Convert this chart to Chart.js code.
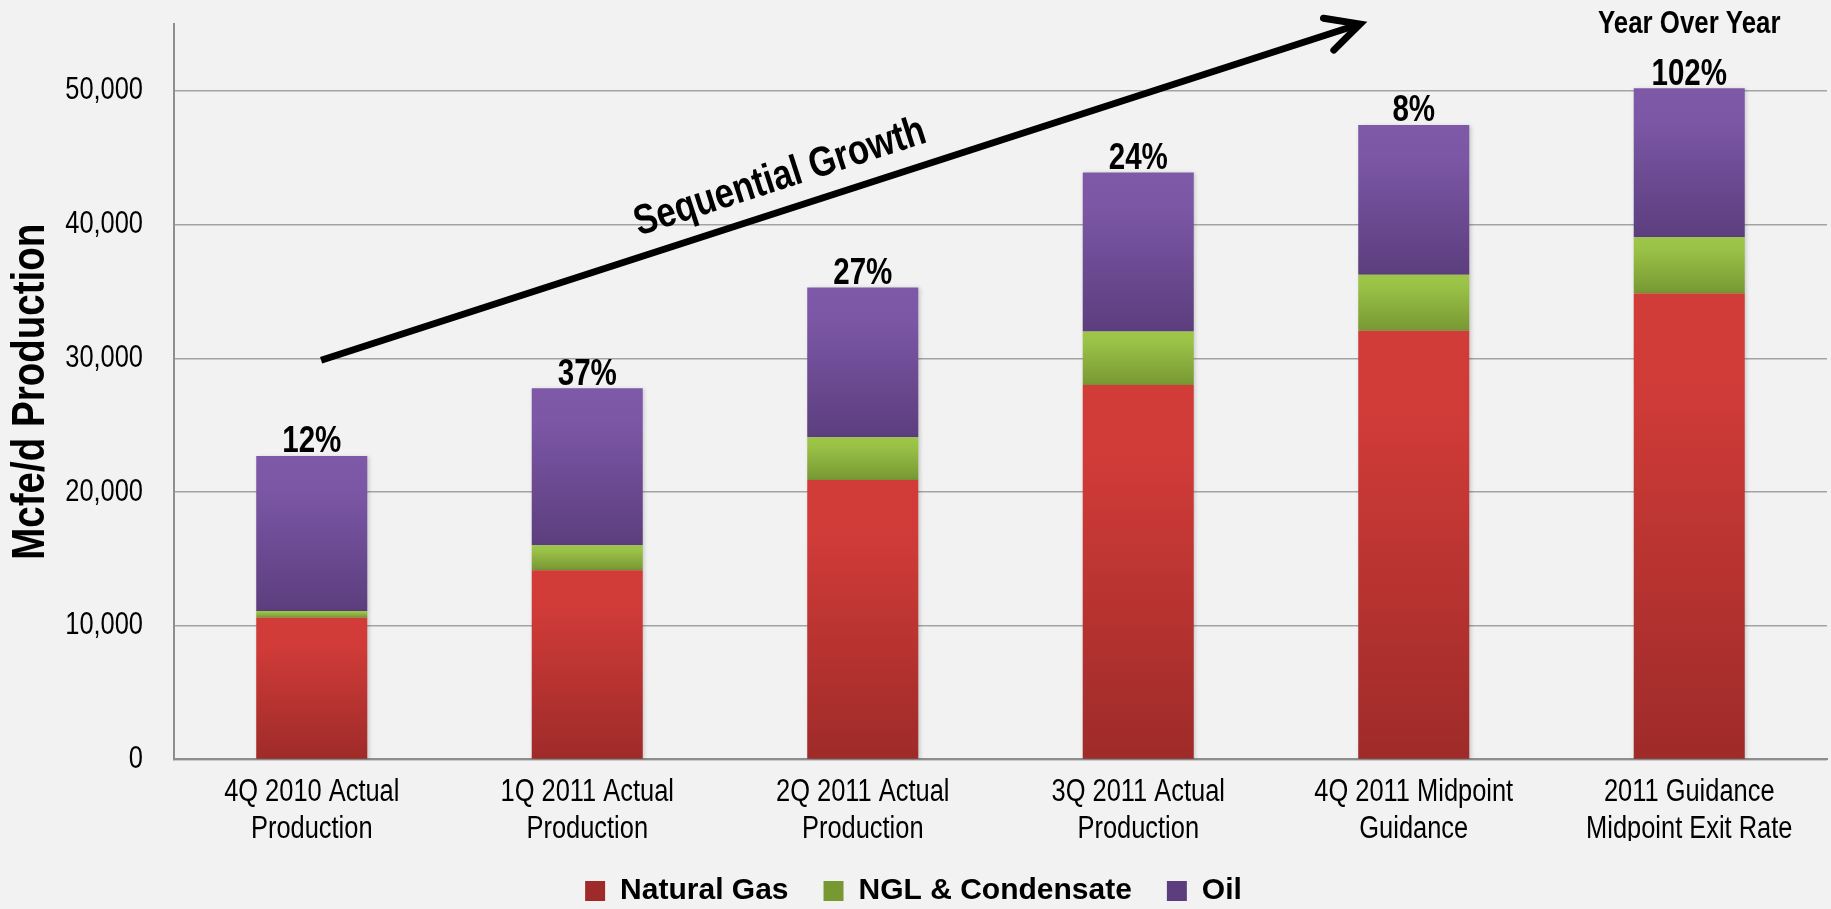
<!DOCTYPE html>
<html><head><meta charset="utf-8">
<script src="https://cdn.jsdelivr.net/npm/chart.js@4/dist/chart.umd.min.js"></script>
<style>html,body{margin:0;padding:0;background:#F2F2F2;overflow:hidden}#wrap{width:1831px;height:909px;position:relative}canvas{display:block}</style>
</head><body><div id="wrap"><canvas id="c" width="1831" height="909"></canvas></div>
<script>
// ---- data ----
const categories = [
  ['4Q 2010 Actual', 'Production'],
  ['1Q 2011 Actual', 'Production'],
  ['2Q 2011 Actual', 'Production'],
  ['3Q 2011 Actual', 'Production'],
  ['4Q 2011 Midpoint', 'Guidance'],
  ['2011 Guidance', 'Midpoint Exit Rate']
];
const naturalGas    = [10600, 14150, 20900, 28000, 32050, 34850];
const nglCondensate = [500, 1870, 3200, 4000, 4200, 4200];
const oil           = [11600, 11740, 11200, 11900, 11200, 11150];
const growthLabels  = ['12%', '37%', '27%', '24%', '8%', '102%'];
const yTickValues   = [0, 10000, 20000, 30000, 40000, 50000];
const seriesNames   = ['Natural Gas', 'NGL & Condensate', 'Oil'];
const yAxisTitle    = 'Mcfe/d Production';
const arrowText     = 'Sequential Growth';
const yoyText       = 'Year Over Year';

// condensed look: text in the "NarrowSim" family is drawn horizontally compressed
const NARROW = "NarrowSim, 'Liberation Sans', Arial, sans-serif";
const REG = "'Liberation Sans', Arial, sans-serif";
const SX = 0.82;

function installNarrow(ctx) {
  if (ctx.__narrow) return;
  ctx.__narrow = true;
  const ft = ctx.fillText.bind(ctx), mt = ctx.measureText.bind(ctx);
  ctx.fillText = function (text, x, y, maxWidth) {
    if (/NarrowSim/.test(this.font)) {
      this.save();
      this.translate(x, y);
      this.scale(SX, 1);
      if (maxWidth !== undefined && maxWidth !== null) ft(text, 0, 0, maxWidth / SX); else ft(text, 0, 0);
      this.restore();
    } else if (maxWidth !== undefined && maxWidth !== null) ft(text, x, y, maxWidth);
    else ft(text, x, y);
  };
  ctx.measureText = function (text) {
    const m = mt(text);
    if (/NarrowSim/.test(this.font)) {
      return {
        width: m.width * SX,
        actualBoundingBoxAscent: m.actualBoundingBoxAscent,
        actualBoundingBoxDescent: m.actualBoundingBoxDescent,
        actualBoundingBoxLeft: m.actualBoundingBoxLeft * SX,
        actualBoundingBoxRight: m.actualBoundingBoxRight * SX,
        fontBoundingBoxAscent: m.fontBoundingBoxAscent,
        fontBoundingBoxDescent: m.fontBoundingBoxDescent
      };
    }
    return m;
  };
}

const palettes = [
  ['#D13C39', '#D03B38', '#9E2B29'],
  ['#9DC649', '#9AC247', '#789833'],
  ['#7E59A8', '#7C57A6', '#5C3E7E']
];

function segFill(dsIndex) {
  return (c) => {
    const chart = c.chart;
    const [c0, cm, c1] = palettes[dsIndex];
    const g2d = chart.ctx;
    if (c.type !== 'data') {
      const g = g2d.createLinearGradient(0, 881, 0, 901);
      g.addColorStop(0, c0); g.addColorStop(1, c1);
      return g;
    }
    const y = chart.scales && chart.scales.y;
    if (!y || !chart.chartArea) return cm;
    const i = c.dataIndex;
    let start = 0;
    for (let d = 0; d < dsIndex; d++) start += chart.data.datasets[d].data[i];
    const end = start + chart.data.datasets[dsIndex].data[i];
    const top = y.getPixelForValue(end), bot = y.getPixelForValue(start);
    if (!isFinite(top) || !isFinite(bot) || Math.abs(bot - top) < 0.5) return cm;
    const g = g2d.createLinearGradient(0, top, 0, bot);
    g.addColorStop(0, c0);
    g.addColorStop(0.2, cm);
    g.addColorStop(1, c1);
    return g;
  };
}

const shadowPlugin = {
  id: 'shadow',
  beforeDatasetDraw(chart) {
    const ctx = chart.ctx;
    ctx.save();
    ctx.shadowColor = 'rgba(0,0,0,0.18)';
    ctx.shadowBlur = 4;
    ctx.shadowOffsetX = 1.5;
    ctx.shadowOffsetY = 1;
  },
  afterDatasetDraw(chart) { chart.ctx.restore(); }
};

const annotPlugin = {
  id: 'annot',
  afterDatasetsDraw(chart) {
    const {ctx, scales: {x, y}} = chart;
    const meta = chart.getDatasetMeta(chart.data.datasets.length - 1);
    ctx.save();
    ctx.fillStyle = '#000';
    ctx.textAlign = 'center';
    ctx.textBaseline = 'alphabetic';
    ctx.font = 'bold 36px ' + NARROW;
    meta.data.forEach((bar, i) => ctx.fillText(growthLabels[i], bar.x, bar.y - 3.5));

    ctx.font = 'bold 31.5px ' + NARROW;
    ctx.fillText(yoyText, x.getPixelForValue(5), y.getPixelForValue(54300));

    // arrow
    const x0 = x.getPixelForValue(0.034), y0 = y.getPixelForValue(29850);
    const x1 = x.getPixelForValue(3.805), y1 = y.getPixelForValue(55000);
    ctx.strokeStyle = '#000';
    ctx.lineWidth = 7;
    ctx.lineCap = 'butt';
    ctx.beginPath(); ctx.moveTo(x0, y0); ctx.lineTo(x1, y1); ctx.stroke();
    const ang = Math.atan2(y0 - y1, x0 - x1);
    const len = 37, spread = 27 * Math.PI / 180;
    ctx.lineCap = 'round';
    ctx.lineJoin = 'miter';
    ctx.beginPath();
    ctx.moveTo(x1 + len * Math.cos(ang + spread), y1 + len * Math.sin(ang + spread));
    ctx.lineTo(x1, y1);
    ctx.lineTo(x1 + len * Math.cos(ang - spread), y1 + len * Math.sin(ang - spread));
    ctx.stroke();

    // rotated text
    const tx = x.getPixelForValue(1.70), ty = y.getPixelForValue(43500);
    ctx.translate(tx, ty);
    ctx.rotate(-18 * Math.PI / 180);
    ctx.font = 'bold 42px ' + NARROW;
    ctx.textBaseline = 'middle';
    ctx.fillText(arrowText, 0, 0);
    ctx.restore();
  }
};

const datasets = [naturalGas, nglCondensate, oil].map((arr, k) => ({
  label: seriesNames[k],
  data: arr,
  backgroundColor: segFill(k),
  borderWidth: 0,
  barPercentage: 0.403,
  categoryPercentage: 1.0
}));

const canvas = document.getElementById('c');
installNarrow(canvas.getContext('2d'));

new Chart(canvas, {
  type: 'bar',
  data: { labels: categories, datasets },
  options: {
    responsive: false,
    animation: false,
    devicePixelRatio: 1,
    layout: { padding: { left: 0, right: 4, top: 24, bottom: -7 } },
    plugins: {
      legend: {
        position: 'bottom',
        labels: {
          boxWidth: 20, boxHeight: 20, padding: 35, color: '#000',
          font: { family: REG, weight: 'bold', size: 30 }
        }
      },
      tooltip: { enabled: false },
      title: { display: false }
    },
    scales: {
      x: {
        stacked: true,
        grid: { display: false, drawTicks: false },
        border: { display: true, color: '#8E8E8E', width: 2 },
        ticks: {
          color: '#000', padding: 14, maxRotation: 0, autoSkip: false,
          font: { family: NARROW, size: 31, lineHeight: 1.21 }
        },
        afterFit: (s) => { s.height = 81.6; }
      },
      y: {
        stacked: true,
        min: 0, max: 55000,
        grid: { color: '#A3A3A3', lineWidth: 1.5, drawTicks: false },
        border: { display: true, color: '#8E8E8E', width: 2 },
        ticks: {
          padding: 31, color: '#000',
          font: { family: NARROW, size: 31 },
          callback: (v) => Number(v).toLocaleString('en-US')
        },
        afterBuildTicks: (s) => { s.ticks = yTickValues.map((v) => ({ value: v })); },
        title: {
          display: true, text: yAxisTitle, color: '#000',
          font: { family: NARROW, weight: 'bold', size: 47, lineHeight: 1.2 },
          padding: { top: 3, bottom: 0 }
        },
        afterFit: (s) => { s.width = 174; s.paddingTop = 0; s.paddingBottom = 0; }
      }
    }
  },
  plugins: [shadowPlugin, annotPlugin]
});
</script>
</body></html>
